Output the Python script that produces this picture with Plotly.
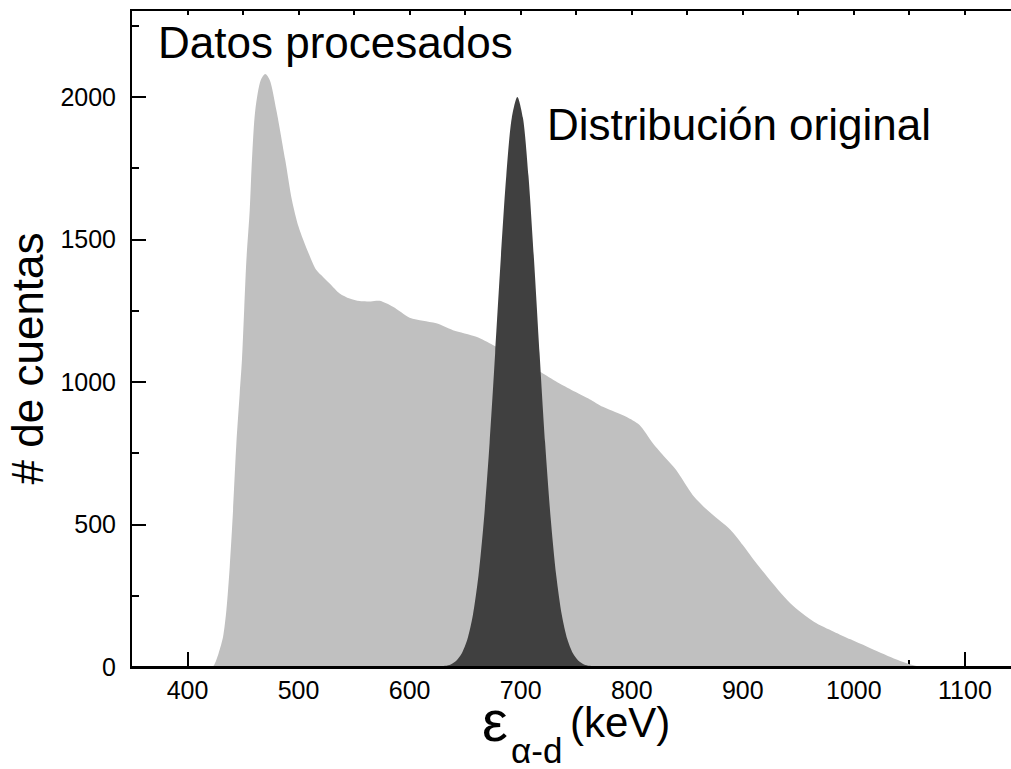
import plotly.graph_objects as go

# Light grey: processed data
proc_x = [422, 424, 428, 432, 435, 438, 441, 444, 447, 449, 451, 453, 456, 458, 461, 466, 470, 474, 480,
          488, 494, 500, 509, 516, 522, 528, 537, 546, 555, 565, 573, 585, 600, 612, 624, 639, 660, 675,
          690, 705, 720, 735, 749, 762, 774, 785, 795, 807, 819, 830, 840, 855, 868, 889, 900, 911, 922,
          943, 964, 982, 997, 1012, 1036, 1051, 1062]
proc_y = [0, 7, 48, 106, 200, 352, 551, 786, 961, 1077, 1253, 1428, 1604, 1779, 1954, 2060, 2081, 2060, 1954,
          1779, 1639, 1545, 1452, 1393, 1369, 1346, 1311, 1293, 1284, 1283, 1285, 1264, 1226, 1215, 1206, 1182, 1159, 1130,
          1097, 1064, 1030, 995, 966, 940, 913, 895, 878, 849, 785, 735, 691, 603, 551, 481, 428, 370, 317,
          223, 159, 124, 97, 71, 30, 9, 0]

# Dark grey: original distribution
orig_x = [620, 632, 637, 642, 647, 652, 657, 662, 667, 672, 677, 682, 687, 692, 697,
          702, 707, 712, 717, 722, 727, 732, 737, 742, 747, 752, 757, 762, 775]
orig_y = [0, 4, 9, 22, 48, 97, 183, 321, 522, 787, 1101, 1429, 1723, 1927, 2000,
          1927, 1723, 1429, 1101, 787, 522, 321, 183, 97, 48, 22, 9, 4, 0]

X_RANGE = [350, 1141.5]
Y_RANGE = [0, 2302]
FONT = "Liberation Sans, Arial, sans-serif"

fig = go.Figure()
fig.add_trace(go.Scatter(x=proc_x, y=proc_y, mode="lines", fill="tozeroy",
                         line=dict(color="#c0c0c0", width=0, shape="spline", smoothing=0.8),
                         fillcolor="#c0c0c0", showlegend=False, hoverinfo="skip"))
fig.add_trace(go.Scatter(x=orig_x, y=orig_y, mode="lines", fill="tozeroy",
                         line=dict(color="#404040", width=0, shape="spline", smoothing=0.8),
                         fillcolor="#404040", showlegend=False, hoverinfo="skip"))
fig.add_trace(go.Scatter(x=[], y=[], xaxis="x2", showlegend=False))

fig.update_layout(
    width=1011, height=769,
    margin=dict(l=132, r=0, t=11, b=102, pad=0),
    paper_bgcolor="white", plot_bgcolor="white",
    font=dict(family=FONT, color="black"),
    xaxis=dict(range=X_RANGE, tick0=0, dtick=100, ticks="inside", ticklen=15, tickwidth=2,
               tickcolor="black", showline=True, linewidth=2, linecolor="black",
               showgrid=False, zeroline=False, layer="below traces",
               tickfont=dict(size=25, family=FONT), ticklabelstandoff=0,
               minor=dict(tick0=0, dtick=50, ticks="inside", ticklen=7, tickwidth=2,
                          tickcolor="black", showgrid=False)),
    xaxis2=dict(range=X_RANGE, overlaying="x", side="top", anchor="y", tick0=0, dtick=50,
                ticks="inside", ticklen=4, tickwidth=1.5, tickcolor="black",
                showline=True, linewidth=2, linecolor="black", showticklabels=False,
                showgrid=False, zeroline=False),
    yaxis=dict(range=Y_RANGE, tick0=0, dtick=500, ticks="inside", ticklen=14, tickwidth=2,
               tickcolor="black", showline=True, linewidth=2, linecolor="black",
               showgrid=False, zeroline=False,
               tickfont=dict(size=25, family=FONT), ticklabelstandoff=9,
               minor=dict(tick0=0, dtick=250, ticks="inside", ticklen=7, tickwidth=2,
                          tickcolor="black", showgrid=False)),
    shapes=[dict(type="line", xref="paper", x0=0, x1=1, yref="y", y0=0, y1=0,
                 line=dict(color="black", width=2), layer="above")],
)

ann = [
    dict(text="Datos procesados", x=0.0273, y=0.9527, size=44, xanchor="left", angle=0),
    dict(text="Distribución original", x=0.4699, y=0.8277, size=44, xanchor="left", angle=0),
    dict(text="# de cuentas", x=-0.1193, y=0.4706, size=44, xanchor="center", angle=-90),
    dict(text="ε", x=0.3959, y=-0.0822, size=58, xanchor="left", angle=0),
    dict(text="α-d", x=0.4289, y=-0.1275, size=35, xanchor="left", angle=0),
    dict(text="(keV)", x=0.4960, y=-0.0845, size=42, xanchor="left", angle=0),
]
for a in ann:
    fig.add_annotation(text=a["text"], x=a["x"], y=a["y"], xref="paper", yref="paper",
                       xanchor=a["xanchor"], yanchor="middle", textangle=a["angle"],
                       showarrow=False, font=dict(size=a["size"], family=FONT, color="black"))

fig.write_html("out.html")
